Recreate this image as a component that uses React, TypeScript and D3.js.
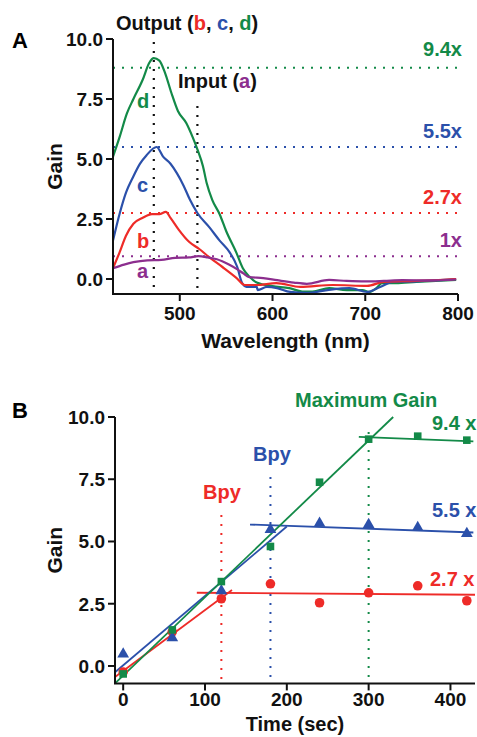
import React from "react";
import * as d3 from "d3";

// panel A spectra: [wavelength nm, gain]
const curveA: [number, number][] = [
  [428, 0.45], [440, 0.6], [450, 0.7], [465, 0.78], [480, 0.8], [495, 0.88], [510, 0.9], [520, 0.95],
  [530, 0.9], [540, 0.82], [553, 0.6], [562, 0.4], [568, 0.25], [575, 0.08], [590, 0.04], [605, -0.05],
  [623, -0.15], [637, -0.2], [661, -0.04], [680, -0.08], [700, -0.1], [720, -0.08], [740, -0.05],
  [770, -0.06], [798, -0.02],
];
const curveB: [number, number][] = [
  [428, 0.45], [435, 1.1], [442, 1.8], [450, 2.3], [460, 2.55], [470, 2.7], [478, 2.7], [485, 2.8],
  [490, 2.55], [499, 2.05], [510, 1.55], [521, 1.25], [532, 0.9], [546, 0.5], [561, 0.05], [570, -0.25],
  [583, -0.25], [604, -0.17], [630, -0.33], [665, -0.25], [702, -0.29], [720, -0.12], [755, -0.08], [798, 0],
];
const curveC: [number, number][] = [
  [428, 1.6], [435, 2.7], [442, 3.6], [449, 4.2], [457, 4.8], [464, 5.15], [475, 5.5], [482, 5.1],
  [490, 4.8], [497, 4.4], [504, 3.9], [511, 3.3], [519, 2.75], [532, 2.15], [543, 1.6], [554, 1.1],
  [562, 0.5], [567, -0.15], [572, -0.33], [583, -0.33], [584, -0.46], [594, -0.33], [605, -0.38],
  [619, -0.54], [637, -0.58], [659, -0.46], [683, -0.38], [702, -0.54], [716, -0.33], [730, -0.12],
  [756, -0.1], [798, 0],
];
const curveD: [number, number][] = [
  [428, 5.1], [435, 5.9], [443, 6.9], [450, 7.5], [460, 8.3], [467, 9.0], [472, 9.2], [478, 9.1],
  [484, 8.6], [491, 7.75], [498, 7.0], [507, 6.5], [514, 5.9], [519, 5.4], [525, 4.7], [529, 4.0],
  [535, 3.3], [543, 2.7], [550, 2.0], [561, 1.1], [568, 0.45], [575, 0.1], [583, -0.15], [600, -0.3],
  [618, -0.38], [632, -0.52], [643, -0.52], [661, -0.38], [680, -0.46], [697, -0.46], [704, -0.54],
  [712, -0.38], [718, -0.17], [733, -0.17], [755, -0.12], [776, -0.08], [798, -0.04],
];
const levelsA = [8.8, 5.5, 2.75, 0.95];
const levelLabelsA = ["9.4x", "5.5x", "2.7x", "1x"];
const outputWl = 472;
const inputWl = 519;
const ticksXA = [500, 600, 700, 800];
const ticksY = [0, 2.5, 5, 7.5, 10];

// panel B: time (sec) vs gain
const times = [0, 60, 120, 180, 240, 300, 360, 420];
const gainSquares = [-0.32, 1.45, 3.39, 4.8, 7.38, 9.11, 9.23, 9.07];
const gainTriangles = [0.52, 1.17, 3.06, 5.52, 5.77, 5.72, 5.6, 5.36];
const gainCircles = [-0.24, 1.37, 2.7, 3.3, 2.54, 2.94, 3.22, 2.62];
const fitGreen: [number, number][][] = [[[-10, -0.7], [330, 10]], [[288, 9.2], [428, 9.02]]];
const fitBlue: [number, number][][] = [[[-10, -0.25], [200, 5.6]], [[155, 5.68], [428, 5.36]]];
const fitRed: [number, number][][] = [[[-10, -0.44], [133, 3.05]], [[90, 2.94], [430, 2.86]]];
const bpyRed = 120;
const bpyBlue = 180;
const maxGainT = 300;
const ticksXB = [0, 100, 200, 300, 400];

const GREEN = "#138a48";
const BLUE = "#2b50aa";
const RED = "#ee2b28";
const PURPLE = "#8c2e8e";
const FONT = "'Liberation Sans', Arial, Helvetica, sans-serif";

const xA = d3.scaleLinear().domain([428, 800]).range([113, 458]);
const yA = d3.scaleLinear().domain([-0.625, 10]).range([294, 39]);
const xB = d3.scaleLinear().domain([-10, 430]).range([115, 475]);
const yB = d3.scaleLinear().domain([-0.7, 10]).range([683.4, 417]);

const lineA = d3.line<[number, number]>().x(d => xA(d[0])).y(d => yA(d[1])).curve(d3.curveMonotoneX);
const lineB = d3.line<[number, number]>().x(d => xB(d[0])).y(d => yB(d[1]));
const fmt = d3.format(".1f");

function Axes({ x, y, xt, yt, xlabel, tickGap, labelGap, labelSize }: any) {
  const [x0, x1] = x.range();
  const [y0, y1] = y.range();
  return (
    <g fontFamily={FONT} fontWeight="bold" fill="#111">
      <path d={`M${x0},${y1}V${y0}H${x1}`} fill="none" stroke="#111" strokeWidth={2} />
      {yt.map((t: number) => (
        <g key={t}>
          <line x1={x0 - 7} x2={x0} y1={y(t)} y2={y(t)} stroke="#111" strokeWidth={2} />
          <text x={x0 - 10} y={y(t) + 7} textAnchor="end" fontSize={19}>{fmt(t)}</text>
        </g>
      ))}
      {xt.map((t: number) => (
        <g key={t}>
          <line x1={x(t)} x2={x(t)} y1={y0} y2={y0 + 7} stroke="#111" strokeWidth={2} />
          <text x={x(t)} y={y0 + tickGap} textAnchor="middle" fontSize={19}>{t}</text>
        </g>
      ))}
      <text x={(x0 + x1) / 2} y={y0 + labelGap} textAnchor="middle" fontSize={labelSize}>{xlabel}</text>
      <text transform={`translate(62,${(y0 + y1) / 2}) rotate(-90)`} textAnchor="middle" fontSize={21}>Gain</text>
    </g>
  );
}

export default function App() {
  const levelColors = [GREEN, BLUE, RED, PURPLE];
  const curves = [
    { d: curveD, c: GREEN }, { d: curveC, c: BLUE }, { d: curveB, c: RED }, { d: curveA, c: PURPLE },
  ];
  const tri = d3.symbol().type(d3.symbolTriangle).size(60)() as string;
  return (
    <svg width={477} height={737} style={{ position: "absolute", left: 0, top: 0, background: "#fff" }}>
      {/* Panel A */}
      <text x={12} y={48} fontFamily={FONT} fontWeight="bold" fontSize={22}>A</text>
      {levelsA.map((v, i) => (
        <g key={v}>
          <line x1={xA.range()[0]} x2={xA.range()[1]} y1={yA(v)} y2={yA(v)} stroke={levelColors[i]}
            strokeWidth={2} strokeDasharray="2,7" />
          <text x={462} y={yA(v) - 9 + (i === 0 ? -3 : 0)} textAnchor="end" fontFamily={FONT} fontWeight="bold"
            fontSize={20} fill={levelColors[i]}>{levelLabelsA[i]}</text>
        </g>
      ))}
      <line x1={xA(outputWl)} x2={xA(outputWl)} y1={42} y2={yA.range()[0]} stroke="#111" strokeWidth={2.2} strokeDasharray="2,7" />
      <line x1={xA(inputWl)} x2={xA(inputWl)} y1={106} y2={yA.range()[0]} stroke="#111" strokeWidth={2.2} strokeDasharray="2,7" />
      {curves.map(k => (
        <path key={k.c} d={lineA(k.d) as string} fill="none" stroke={k.c} strokeWidth={2.2} />
      ))}
      <Axes x={xA} y={yA} xt={ticksXA} yt={ticksY} xlabel="Wavelength (nm)" tickGap={26} labelGap={54} labelSize={21} />
      <g fontFamily={FONT} fontWeight="bold" fontSize={20}>
        <text x={116} y={30} fill="#111">Output (<tspan fill={RED}>b</tspan>, <tspan fill={BLUE}>c</tspan>, <tspan fill={GREEN}>d</tspan>)</text>
        <text x={178} y={88} fill="#111">Input (<tspan fill={PURPLE}>a</tspan>)</text>
        <text x={137} y={108} fill={GREEN}>d</text>
        <text x={137} y={192} fill={BLUE}>c</text>
        <text x={137} y={248} fill={RED}>b</text>
        <text x={137} y={278} fill={PURPLE}>a</text>
      </g>

      {/* Panel B */}
      <text x={12} y={418} fontFamily={FONT} fontWeight="bold" fontSize={22}>B</text>
      <line x1={xB(bpyRed)} x2={xB(bpyRed)} y1={515} y2={yB.range()[0]} stroke={RED} strokeWidth={2} strokeDasharray="2,7" />
      <line x1={xB(bpyBlue)} x2={xB(bpyBlue)} y1={477} y2={yB.range()[0]} stroke={BLUE} strokeWidth={2} strokeDasharray="2,7" />
      <line x1={xB(maxGainT)} x2={xB(maxGainT)} y1={432} y2={yB.range()[0]} stroke={GREEN} strokeWidth={2} strokeDasharray="2,7" />
      {[{ f: fitRed, c: RED }, { f: fitBlue, c: BLUE }, { f: fitGreen, c: GREEN }].map(k =>
        k.f.map((seg, j) => (
          <path key={k.c + j} d={lineB(seg) as string} fill="none" stroke={k.c} strokeWidth={1.8} />
        ))
      )}
      {times.map((t, i) => (
        <g key={t}>
          <circle cx={xB(t)} cy={yB(gainCircles[i])} r={4.8} fill={RED} />
          <path d={tri} transform={`translate(${xB(t)},${yB(gainTriangles[i]) + 1})`} fill={BLUE} />
          <rect x={xB(t) - 3.8} y={yB(gainSquares[i]) - 3.8} width={7.6} height={7.6} fill={GREEN} />
        </g>
      ))}
      <Axes x={xB} y={yB} xt={ticksXB} yt={ticksY} xlabel="Time (sec)" tickGap={23} labelGap={48} labelSize={20} />
      <g fontFamily={FONT} fontWeight="bold" fontSize={20}>
        <text x={295} y={407} fill={GREEN}>Maximum Gain</text>
        <text x={432} y={430} fill={GREEN}>9.4 x</text>
        <text x={432} y={517} fill={BLUE}>5.5 x</text>
        <text x={430} y={586} fill={RED}>2.7 x</text>
        <text x={253} y={461} fill={BLUE}>Bpy</text>
        <text x={203} y={499} fill={RED}>Bpy</text>
      </g>
    </svg>
  );
}
